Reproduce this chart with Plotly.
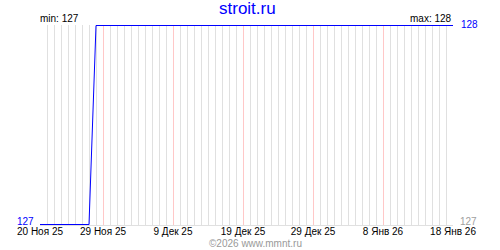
import plotly.graph_objects as go

# data (change points)
dates = ["2025-11-20", "2025-11-27", "2025-11-28", "2026-01-18"]
values = [127, 127, 128, 128]

tick_dates = ["2025-11-20", "2025-11-29", "2025-12-09", "2025-12-19",
              "2025-12-29", "2026-01-08", "2026-01-18"]
tick_labels = ["20 Ноя 25", "29 Ноя 25", "9 Дек 25", "19 Дек 25",
               "29 Дек 25", "8 Янв 26", "18 Янв 26"]

title_text = "stroit.ru"
y_min, y_max = 127, 128
FONT = "Liberation Sans"

pad = 0.5 / 199  # half a pixel so the flat lines sit on pixel rows
fig = go.Figure()
fig.add_trace(go.Scatter(
    x=dates, y=values, mode="lines",
    line=dict(color="#0000ff", width=1),
    cliponaxis=False, hoverinfo="skip", showlegend=False,
))

fig.update_layout(
    width=500, height=250,
    margin=dict(l=40, r=47, t=25, b=25),
    paper_bgcolor="white", plot_bgcolor="white",
    font=dict(family=FONT, size=10, color="black"),
    xaxis=dict(
        range=[dates[0], dates[-1]],
        tickvals=tick_dates, ticktext=tick_labels,
        showgrid=True, gridcolor="#ffc8c8", gridwidth=1,
        minor=dict(dtick=86400000, showgrid=True, gridcolor="#e0e0e0", gridwidth=1),
        showline=True, linecolor="#e0e0e0", linewidth=1,
        ticks="", zeroline=False, tickfont=dict(size=10, color="black"),
        ticklabelstandoff=-3,
    ),
    yaxis=dict(
        range=[y_min - pad, y_max + pad], showgrid=False, zeroline=False,
        showticklabels=False, ticks="", showline=False,
    ),
    annotations=[
        dict(text=title_text, x=0.503, y=1.14, xref="paper", yref="paper",
             xanchor="center", yanchor="top", showarrow=False,
             font=dict(size=17, color="#0000ff", family=FONT)),
        dict(text="min: %d" % min(values), x=dates[0], y=1, xref="x", yref="paper",
             xanchor="left", yanchor="bottom", yshift=-1, xshift=-2, showarrow=False,
             font=dict(size=10, color="black", family=FONT)),
        dict(text="max: %d" % max(values), x=dates[-1], y=1, xref="x", yref="paper",
             xanchor="right", yanchor="bottom", yshift=-1, xshift=1, showarrow=False,
             font=dict(size=10, color="black", family=FONT)),
        dict(text=str(y_max), x=1, y=y_max, xref="paper", yref="y",
             xanchor="left", yanchor="middle", xshift=6, yshift=1, showarrow=False,
             font=dict(size=10, color="#0000ff", family=FONT)),
        dict(text=str(y_min), x=0, y=y_min, xref="paper", yref="y",
             xanchor="right", yanchor="bottom", xshift=-5, yshift=-3, showarrow=False,
             borderpad=0, font=dict(size=10, color="#0000ff", family=FONT)),
        dict(text=str(y_min), x=1, y=y_min, xref="paper", yref="y",
             xanchor="left", yanchor="bottom", xshift=6, yshift=-3, showarrow=False,
             borderpad=0, font=dict(size=10, color="#a0a0a0", family=FONT)),
        dict(text="©2026 www.mmnt.ru", x=0.522, y=-0.125, xref="paper", yref="paper",
             xanchor="center", yanchor="bottom", showarrow=False, borderpad=0,
             font=dict(size=10, color="#999999", family=FONT)),
    ],
)

fig.write_html("out.html")
